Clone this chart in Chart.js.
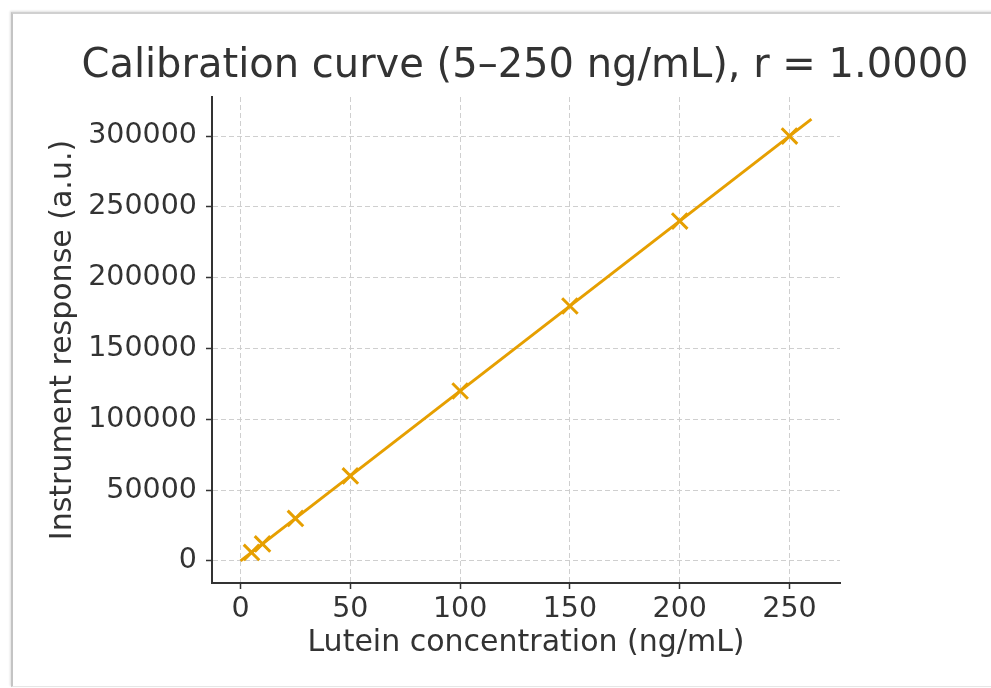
<!DOCTYPE html>
<html>
<head>
<meta charset="utf-8">
<script src="https://cdn.jsdelivr.net/npm/chart.js@4/dist/chart.umd.min.js"></script>
<style>
  html, body { margin: 0; padding: 0; background: #ffffff; width: 991px; height: 688px; overflow: hidden; }
  #frame { position: absolute; left: 11px; top: 12px; width: 1000px; height: 672px;
           border-left: 2px solid #c4c4c4; border-top: 2px solid #d0d0d0; border-bottom: 1px solid #e6e6e6;
           box-shadow: -1px -1px 2px rgba(0,0,0,0.12); background: #fff; }
  #c { position: absolute; left: 0; top: 0; }
</style>
</head>
<body>
<div id="frame"></div>
<canvas id="c" width="991" height="688"></canvas>
<script>
const concentrations = [5, 10, 25, 50, 100, 150, 200, 250];
const responses = [6000, 12000, 30000, 60000, 120000, 180000, 240000, 300000];
const fitX = [0, 260];
const fitY = [0, 312000];
const xTicks = [0, 50, 100, 150, 200, 250];
const yTicks = [0, 50000, 100000, 150000, 200000, 250000, 300000];

const orange = '#E69F00';
const ink = '#333333';
const font = 'DejaVu Sans';

// centre the title over x = 525 and let it use its natural width
const placeTitle = {
  id: 'placeTitle',
  afterLayout(chart) {
    const t = chart.titleBlock;
    if (t) { t.left = 60; t.right = 990; t.width = 930; }
  }
};

new Chart(document.getElementById('c'), {
  type: 'scatter',
  data: {
    datasets: [
      {
        label: 'Fit',
        data: fitX.map((x, i) => ({ x: x, y: fitY[i] })),
        showLine: true,
        borderColor: orange,
        borderWidth: 3,
        pointRadius: 0,
        fill: false
      },
      {
        label: 'Standards',
        data: concentrations.map((x, i) => ({ x: x, y: responses[i] })),
        showLine: false,
        pointStyle: 'crossRot',
        pointRadius: 11,
        pointBorderWidth: 3,
        borderColor: orange,
        backgroundColor: orange
      }
    ]
  },
  plugins: [placeTitle],
  options: {
    responsive: false,
    animation: false,
    layout: { padding: { left: 0, right: 151, top: 0, bottom: 0 } },
    plugins: {
      legend: { display: false },
      tooltip: { enabled: false },
      title: {
        display: true,
        text: 'Calibration curve (5–250 ng/mL), r = 1.0000',
        color: ink,
        font: { family: font, size: 40, weight: 'normal', lineHeight: 1.2 },
        padding: { top: 42.5, bottom: 6.5 }
      }
    },
    scales: {
      x: {
        type: 'linear',
        min: -13,
        max: 273,
        afterFit: (s) => { s.height = 105; },
        afterBuildTicks: (s) => { s.ticks = xTicks.map(v => ({ value: v })); },
        ticks: { color: ink, font: { family: font, size: 28.5 }, padding: 3, includeBounds: false, maxRotation: 0,
                 callback: (v) => String(v) },
        grid: { color: '#cfcfcf', lineWidth: 1, drawTicks: true, tickLength: 6, tickColor: ink, tickWidth: 1.5 },
        border: { display: true, color: ink, width: 2, dash: [5, 3] },
        title: {
          display: true,
          text: 'Lutein concentration (ng/mL)',
          color: ink,
          font: { family: font, size: 30, lineHeight: 1.2 },
          padding: { top: 0, bottom: 27 }
        }
      },
      y: {
        type: 'linear',
        min: -15600,
        max: 327600,
        afterFit: (s) => { s.width = 212; },
        afterBuildTicks: (s) => { s.ticks = yTicks.map(v => ({ value: v })); },
        ticks: { color: ink, font: { family: font, size: 28.5 }, padding: 9, includeBounds: false,
                 callback: (v) => String(v) },
        grid: { color: '#cfcfcf', lineWidth: 1, drawTicks: true, tickLength: 6, tickColor: ink, tickWidth: 1.5 },
        border: { display: true, color: ink, width: 2, dash: [5, 3] },
        title: {
          display: true,
          text: 'Instrument response (a.u.)',
          color: ink,
          font: { family: font, size: 30, lineHeight: 1.2 },
          padding: { top: 45, bottom: 0 }
        }
      }
    }
  }
});
</script>
</body>
</html>
